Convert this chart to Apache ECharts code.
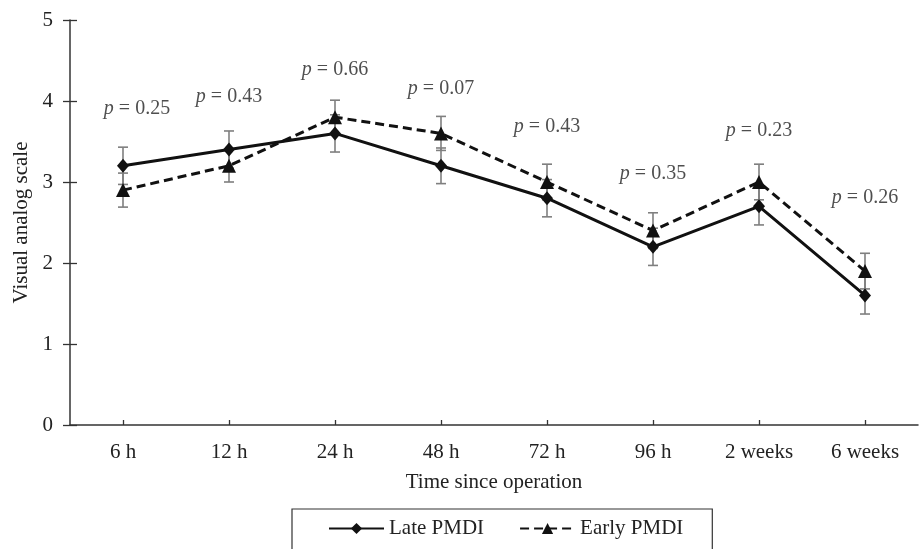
<!DOCTYPE html>
<html>
<head>
<meta charset="utf-8">
<script src="https://cdn.jsdelivr.net/npm/echarts@6/dist/echarts.min.js"></script>
<style>
  html, body { margin: 0; padding: 0; background: #fff; }
  #main { width: 919px; height: 549px; }
</style>
</head>
<body>
<div id="main"></div>
<script>
// categories and values
const times = ['6 h', '12 h', '24 h', '48 h', '72 h', '96 h', '2 weeks', '6 weeks']
const lateVas = [3.2, 3.4, 3.6, 3.2, 2.8, 2.2, 2.7, 1.6]
const earlyVas = [2.9, 3.2, 3.8, 3.6, 3.0, 2.4, 3.0, 1.9]
const lateErr = [0.23, 0.23, 0.23, 0.22, 0.23, 0.23, 0.23, 0.23]
const earlyErr = [0.21, 0.2, 0.21, 0.21, 0.22, 0.22, 0.22, 0.22]
const pValues = ['0.25', '0.43', '0.66', '0.07', '0.43', '0.35', '0.23', '0.26']
const pLabelY = [3.91, 4.05, 4.38, 4.15, 3.68, 3.10, 3.63, 2.81]

const FONT = 'Liberation Serif'
const TXT = '#222'
const AXIS = '#333'

function errData (vals, errs) {
  return vals.map((v, i) => [i, v + errs[i], v - errs[i]])
}

function renderErr (params, api) {
  const i = api.value(0)
  const hi = api.coord([i, api.value(1)])
  const lo = api.coord([i, api.value(2)])
  const w = 5
  const style = { stroke: '#7f7f7f', lineWidth: 1.6 }
  return {
    type: 'group',
    children: [
      { type: 'line', shape: { x1: hi[0], y1: hi[1], x2: lo[0], y2: lo[1] }, style: style },
      { type: 'line', shape: { x1: hi[0] - w, y1: hi[1], x2: hi[0] + w, y2: hi[1] }, style: style },
      { type: 'line', shape: { x1: lo[0] - w, y1: lo[1], x2: lo[0] + w, y2: lo[1] }, style: style }
    ]
  }
}

// invisible line so the second axis still draws its inner ticks
const hiddenLine = { show: true, lineStyle: { color: 'rgba(0,0,0,0)', width: 0 } }

const option = {
  animation: false,
  textStyle: { fontFamily: FONT, color: TXT },
  grid: { left: 70, right: 1, top: 20, bottom: 124 },
  legend: {
    data: ['Late PMDI', 'Early PMDI'],
    left: 292,
    top: 509,
    padding: [9, 29, 40, 36],
    itemGap: 35,
    itemWidth: 55,
    itemHeight: 14,
    borderColor: AXIS,
    borderWidth: 1.2,
    borderRadius: 0,
    textStyle: { fontFamily: FONT, fontSize: 21, color: TXT }
  },
  xAxis: [
    {
      type: 'category',
      data: times,
      name: 'Time since operation',
      nameLocation: 'middle',
      nameGap: 47,
      nameTextStyle: { fontFamily: FONT, fontSize: 21, color: TXT },
      axisLine: { lineStyle: { color: AXIS, width: 1.5 } },
      axisTick: { alignWithLabel: true, length: 4, lineStyle: { color: AXIS, width: 1.3 } },
      axisLabel: { fontFamily: FONT, fontSize: 21, color: TXT, margin: 17 },
      splitLine: { show: false }
    },
    {
      type: 'category',
      data: times,
      position: 'bottom',
      axisLine: hiddenLine,
      axisTick: { show: true, alignWithLabel: true, inside: true, length: 5, lineStyle: { color: AXIS, width: 1.3 } },
      axisLabel: { show: false },
      splitLine: { show: false }
    }
  ],
  yAxis: [
    {
      type: 'value',
      min: 0,
      max: 5,
      interval: 1,
      name: 'Visual analog scale',
      nameLocation: 'middle',
      nameGap: 36,
      nameTextStyle: { fontFamily: FONT, fontSize: 21, color: TXT },
      axisLine: { show: true, lineStyle: { color: AXIS, width: 1.5 } },
      axisTick: { show: true, length: 7, lineStyle: { color: AXIS, width: 1.3 } },
      axisLabel: { fontFamily: FONT, fontSize: 21, color: TXT, margin: 17 },
      splitLine: { show: false }
    },
    {
      type: 'value',
      min: 0,
      max: 5,
      interval: 1,
      position: 'left',
      offset: 0,
      axisLine: hiddenLine,
      axisTick: { show: true, inside: true, length: 7, lineStyle: { color: AXIS, width: 1.3 } },
      axisLabel: { show: false },
      splitLine: { show: false }
    }
  ],
  series: [
    {
      name: 'Late err',
      type: 'custom',
      renderItem: renderErr,
      data: errData(lateVas, lateErr),
      z: 1,
      silent: true
    },
    {
      name: 'Early err',
      type: 'custom',
      renderItem: renderErr,
      data: errData(earlyVas, earlyErr),
      z: 1,
      silent: true
    },
    {
      name: 'Late PMDI',
      type: 'line',
      data: lateVas,
      symbol: 'diamond',
      symbolSize: [12, 14],
      color: '#111',
      lineStyle: { color: '#111', width: 3 },
      itemStyle: { color: '#111' },
      z: 3
    },
    {
      name: 'Early PMDI',
      type: 'line',
      data: earlyVas,
      symbol: 'triangle',
      symbolSize: [14, 14],
      color: '#111',
      lineStyle: { color: '#111', width: 3, type: [9, 5] },
      itemStyle: { color: '#111' },
      z: 3
    },
    {
      name: 'p values',
      type: 'scatter',
      symbolSize: 0,
      data: pLabelY.map((y, i) => i === 0
        ? { value: [i, y], label: { offset: [14, 0] } }
        : [i, y]),
      label: {
        show: true,
        position: 'inside',
        formatter: (p) => '{i|p} = ' + pValues[p.dataIndex],
        fontFamily: FONT,
        fontSize: 20,
        color: TXT,
        rich: {
          i: { fontFamily: FONT, fontStyle: 'italic', fontSize: 20, color: TXT }
        }
      },
      silent: true,
      z: 4
    }
  ]
}

echarts.init(document.getElementById('main')).setOption(option)
</script>
</body>
</html>
